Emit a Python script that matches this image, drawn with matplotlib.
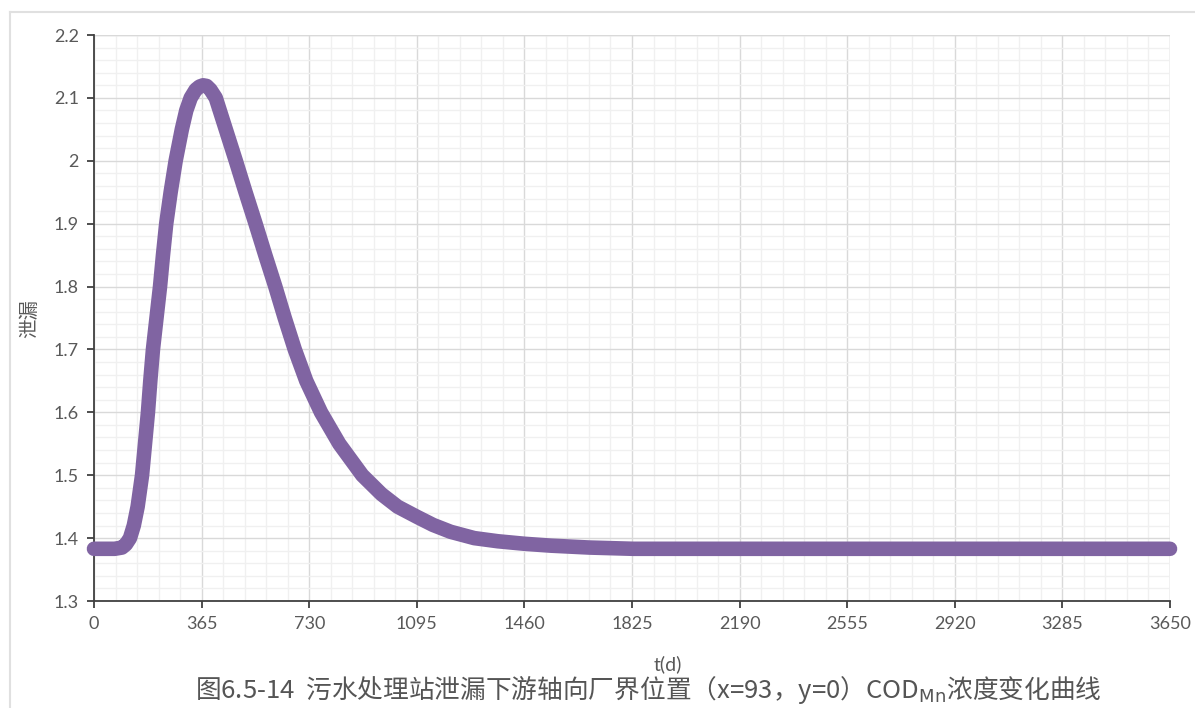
import matplotlib
matplotlib.use("Agg")
import matplotlib.pyplot as plt
from matplotlib.lines import Line2D
from matplotlib.ticker import MultipleLocator

plt.rcParams['font.family'] = ['Noto Sans CJK SC', 'DejaVu Sans']

# data (t in days, concentration)
t_days = [0, 70, 95, 108, 122, 135, 148, 163, 173, 183, 191, 200, 212, 224, 234, 245,
          260, 277, 298, 313, 328, 345, 358, 370, 382, 395, 413, 447, 481, 514, 548,
          581, 615, 647, 681, 720, 770, 832, 910, 975, 1030, 1095, 1150, 1210, 1290,
          1370, 1460, 1550, 1680, 1830, 2190, 2555, 2920, 3285, 3650]
conc = [1.383, 1.383, 1.385, 1.390, 1.400, 1.420, 1.450, 1.500, 1.550, 1.600, 1.650,
        1.700, 1.750, 1.800, 1.850, 1.900, 1.950, 2.000, 2.050, 2.080, 2.100, 2.113,
        2.118, 2.120, 2.119, 2.113, 2.100, 2.050, 2.000, 1.950, 1.900, 1.850, 1.800,
        1.750, 1.700, 1.650, 1.600, 1.550, 1.500, 1.470, 1.450, 1.434, 1.421, 1.410,
        1.400, 1.395, 1.391, 1.388, 1.385, 1.383, 1.383, 1.383, 1.383, 1.383, 1.383]
x_ticks = [0, 365, 730, 1095, 1460, 1825, 2190, 2555, 2920, 3285, 3650]
y_ticks = [1.3, 1.4, 1.5, 1.6, 1.7, 1.8, 1.9, 2.0, 2.1, 2.2]
y_labels = ['1.3', '1.4', '1.5', '1.6', '1.7', '1.8', '1.9', '2', '2.1', '2.2']
x_label = 't(d)'
y_label = '泄漏'
caption = '图6.5-14  污水处理站泄漏下游轴向厂界位置（x=93，y=0）COD$_{\\mathrm{Mn}}$浓度变化曲线'

fig = plt.figure(figsize=(11.95, 7.08), dpi=100)
ax = fig.add_axes([94/1195, 1-601/708, (1170-94)/1195, (601-35)/708])

ax.plot(t_days, conc, color='#8064a2', lw=10.5, solid_capstyle='round',
        solid_joinstyle='round', clip_on=False, zorder=5)

ax.set_xlim(0, 3650)
ax.set_ylim(1.3, 2.2)
ax.set_xticks(x_ticks)
ax.set_xticklabels([str(v) for v in x_ticks])
ax.set_yticks(y_ticks)
ax.set_yticklabels(y_labels)
ax.xaxis.set_minor_locator(MultipleLocator(73))
ax.yaxis.set_minor_locator(MultipleLocator(0.02))
ax.grid(which='major', color='#d9d9d9', lw=1.0, zorder=0)
ax.grid(which='minor', color='#f0f0f0', lw=1.0, zorder=0)
ax.set_axisbelow(True)

for s in ['top', 'right']:
    ax.spines[s].set_visible(False)
for s in ['left', 'bottom']:
    ax.spines[s].set_color('#404040')
    ax.spines[s].set_linewidth(1.3)
ax.tick_params(which='major', direction='out', length=5, width=1.3, color='#404040',
               labelsize=13, labelcolor='#595959', pad=6)
ax.tick_params(which='minor', length=0)
for lab in ax.get_xticklabels() + ax.get_yticklabels():
    lab.set_family(['Lato', 'DejaVu Sans'])

# top/right edge gridlines
ax.axhline(2.2, color='#d9d9d9', lw=1.0, zorder=0)
ax.axvline(3650, color='#d9d9d9', lw=1.0, zorder=0)

fig.text(30/1195, 1-318/708, y_label, rotation=90, ha='center', va='center',
         fontsize=14, color='#595959')
fig.text(668/1195, 1-664/708, x_label, ha='center', va='center',
         fontsize=14, color='#595959', family=['Lato', 'DejaVu Sans'])
fig.text(648/1195, 1-690/708, caption, ha='center', va='center',
         fontsize=18.5, color='#555555')

# outer frame lines
fig.add_artist(Line2D([10/1195, 1], [1-12/708, 1-12/708], color='#e0e0e0', lw=1.5))
fig.add_artist(Line2D([10/1195, 10/1195], [0, 1-12/708], color='#e0e0e0', lw=1.5))

fig.savefig('out.png', dpi=100)
